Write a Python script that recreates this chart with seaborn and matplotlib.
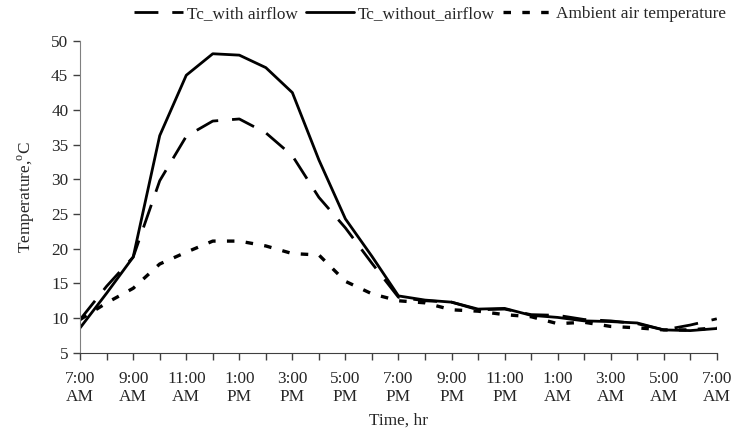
import pandas as pd
import seaborn as sns
import matplotlib.pyplot as plt

# hourly readings, 7:00 AM -> 7:00 AM next day
hours = list(range(25))
tc_with_airflow = [9.8, 14.6, 18.8, 29.8, 36.2, 38.4, 38.7, 36.7, 33.4, 27.4, 23.0, 17.9,
                   13.0, 12.5, 12.3, 11.2, 11.3, 10.5, 10.4, 9.8, 9.6, 9.2, 8.3, 9.0, 9.9]
tc_without_airflow = [8.6, 13.6, 18.8, 36.3, 45.0, 48.1, 47.9, 46.1, 42.5, 32.8, 24.3, 18.9,
                      13.2, 12.6, 12.3, 11.3, 11.4, 10.4, 10.1, 9.6, 9.5, 9.3, 8.3, 8.2, 8.5]
ambient = [9.8, 12.2, 14.3, 17.8, 19.5, 21.1, 21.1, 20.4, 19.3, 19.1, 15.3, 13.5,
           12.5, 12.2, 11.2, 11.0, 10.5, 10.2, 9.2, 9.4, 8.8, 8.6, 8.3, 8.3, 8.6]
tick_labels = ["7:00\nAM", "9:00\nAM", "11:00\nAM", "1:00\nPM", "3:00\nPM", "5:00\nPM", "7:00\nPM",
               "9:00\nPM", "11:00\nPM", "1:00\nAM", "3:00\nAM", "5:00\nAM", "7:00\nAM"]
series_names = ["Tc_with airflow", "Tc_without_airflow", "Ambient air temperature"]

df = pd.DataFrame({
    "hour": hours * 3,
    "temp": tc_with_airflow + tc_without_airflow + ambient,
    "series": [series_names[0]] * 25 + [series_names[1]] * 25 + [series_names[2]] * 25,
})

sns.set_style("ticks")
plt.rcParams["font.family"] = ["Liberation Serif", "DejaVu Serif"]
plt.rcParams["mathtext.fontset"] = "custom"
plt.rcParams["mathtext.rm"] = "Liberation Serif"
fs = 12.4

fig = plt.figure(figsize=(7.49, 4.41), dpi=100)
ax = fig.add_axes([0.107, 0.2, 0.85, 0.708])

dashes = {series_names[0]: (8.6, 5), series_names[1]: "", series_names[2]: (2.25, 3.4)}
sns.lineplot(data=df, x="hour", y="temp", style="series", dashes=dashes,
             color="black", linewidth=2.0, ax=ax, legend=False)
widths = [2.0, 2.0, 2.4]
for ln, name, w in zip(ax.lines[:3], series_names, widths):
    ln.set_linewidth(w)
    ln.set_label(name)

ax.set_xlim(0, 24)
ax.set_ylim(5, 50)
ax.set_yticks(range(5, 51, 5))
ax.set_xticks(hours)
ax.set_xticklabels([tick_labels[i // 2] if i % 2 == 0 else "" for i in hours])
ax.tick_params(axis="both", labelsize=fs, length=5, width=1, color="#404040", direction="out")
ax.tick_params(axis="x", pad=8)
for s in ["top", "right"]:
    ax.spines[s].set_visible(False)
ax.spines["left"].set_color("#808080")
ax.spines["bottom"].set_color("#404040")
ax.set_xlabel("Time, hr", fontsize=fs, labelpad=5)
ax.set_ylabel("Temperature,$^{\\mathrm{o}}$C", fontsize=fs, labelpad=10)

fig.legend(ax.lines[:3], series_names, loc="center", bbox_to_anchor=(430 / 749, 0.968), ncol=3,
           frameon=False, fontsize=fs, handlelength=2.8, handletextpad=0.25, columnspacing=0.45)

fig.savefig("out.png", dpi=100)
